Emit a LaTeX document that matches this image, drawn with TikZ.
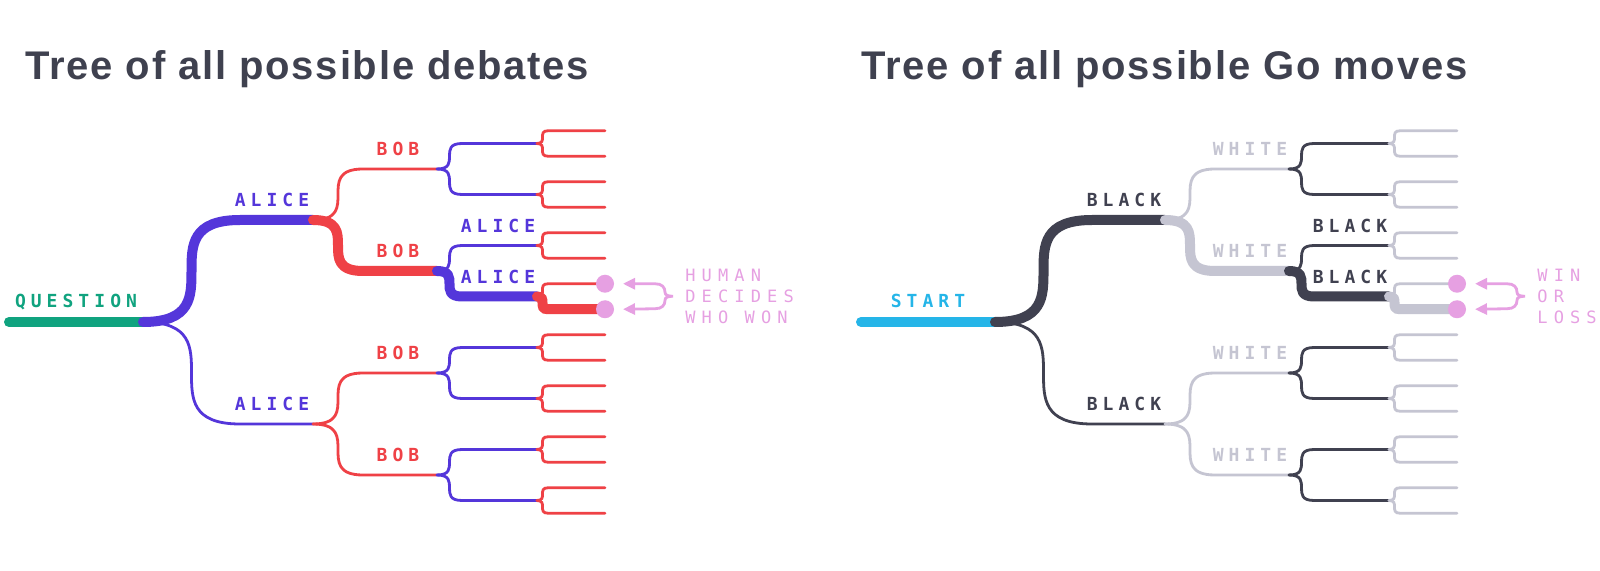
\documentclass[tikz,border=0pt]{standalone}
\usepackage{fontspec}
\setmainfont{Liberation Sans}
\newfontfamily\titlefont[LetterSpace=4.5]{Liberation Sans}
\newfontfamily\movefont[LetterSpace=28]{DejaVu Sans Mono}
\newfontfamily\notefont[LetterSpace=36]{DejaVu Sans Mono}
\usetikzlibrary{calc,arrows.meta}

\definecolor{qgreen}{RGB}{16,163,127}
\definecolor{apurple}{RGB}{84,54,218}
\definecolor{bred}{RGB}{239,65,70}
\definecolor{sblue}{RGB}{37,181,232}
\definecolor{gdark}{RGB}{64,65,80}
\definecolor{glight}{RGB}{197,197,210}
\definecolor{npink}{RGB}{230,160,226}
\definecolor{ttl}{RGB}{63,65,79}

\tikzset{
  twig/.style 2 args={to path={.. controls +(#1,0) and +(-#1,0)
      .. ($(\tikztotarget)+(-#2,0)$) -- (\tikztotarget)}},
  lvl1/.style={twig={97}{73}},
  lvl2/.style={twig={50}{74}},
  lvl3/.style={twig={25}{75}},
  lvl4/.style={twig={11}{57}},
  branch/.style={line width=1.4pt,line cap=round},
  played/.style={line width=5pt,line cap=round},
  movelabel/.style={font=\movefont\bfseries\fontsize{9pt}{9pt}\selectfont,
      inner sep=0pt,text depth=0pt},
  notelabel/.style={font=\notefont\fontsize{8.5pt}{10.5pt}\selectfont,
      text=npink,align=left,inner sep=0pt,anchor=west},
  enddot/.style={circle,fill=npink,inner sep=0pt,minimum size=9pt},
  judge/.style={npink,line width=1.4pt,
      arrows={Triangle[length=6pt,width=5.5pt]-Triangle[length=6pt,width=5.5pt]}},
  title/.style={font=\titlefont\bfseries\fontsize{20pt}{20pt}\selectfont,text=ttl,
      inner sep=0pt,anchor=base west}
}

% #1 name prefix, #2 root colour, #3/#4 colours of the two players,
% #5 root label, #6/#7 move labels, #8 note at the two end states
\newcommand\gametree[8]{
  \coordinate (#1s) at (9,322);
  \coordinate (#1n) at (143,322);
  \foreach \i/\di in {1/-102,2/102}{
    \coordinate (#1n\i) at (313,322+\di);
    \foreach \j/\dj in {1/-51,2/51}{
      \coordinate (#1n\i\j) at (437,322+\di+\dj);
      \foreach \k/\dk in {1/-25.5,2/25.5}{
        \coordinate (#1n\i\j\k) at (537,322+\di+\dj+\dk);
        \foreach \m/\dm in {1/-12.75,2/12.75}
          \coordinate (#1n\i\j\k\m) at (605,322+\di+\dj+\dk+\dm);
      }
    }
  }
  % every possible move
  \foreach \i in {1,2}{
    \draw[branch,#3] (#1n) to[lvl1] (#1n\i);
    \foreach \j in {1,2}{
      \draw[branch,#4] (#1n\i) to[lvl2] (#1n\i\j);
      \foreach \k in {1,2}{
        \draw[branch,#3] (#1n\i\j) to[lvl3] (#1n\i\j\k);
        \foreach \m in {1,2}
          \draw[branch,#4] (#1n\i\j\k) to[lvl4] (#1n\i\j\k\m);
      }
    }
  }
  % the game that was played
  \draw[played,#2] (#1s) -- (#1n);
  \draw[played,#3] (#1n) to[lvl1] (#1n1);
  \draw[played,#4] (#1n1) to[lvl2] (#1n12);
  \draw[played,#3] (#1n12) to[lvl3] (#1n122);
  \draw[played,#4] (#1n122) to[lvl4] (#1n1222);
  % labels
  \node[movelabel,text=#2] (#1ls) at ($(#1s)!.5!(#1n)+(0,-21)$) {#5};
  \foreach \i in {1,2}{
    \node[movelabel,text=#3] (#1l\i) at ($(#1n\i)+(-41,-20)$) {#6};
    \foreach \j in {1,2}
      \node[movelabel,text=#4] (#1l\i\j) at ($(#1n\i\j)+(-39,-20)$) {#7};
    \node[movelabel,text=#3] (#1l12\i) at ($(#1n12\i)+(-39,-20)$) {#6};
  }
  % end states and who judges them
  \foreach \m in {1,2}{
    \node[enddot] (#1d\m) at (#1n122\m) {};
    \coordinate (#1w\m) at ($(#1n122\m)+(18,0)$);
  }
  \draw[judge] (#1w1) -- ++(32,0)
    .. controls +(7,0) and +(0,-5) .. ++(10,8.5)
    .. controls +(0,3) and +(-5,0) .. ++(8,4)
    .. controls +(-5,0) and +(0,-3) .. ++(-8,4)
    .. controls +(0,5) and +(7,0) .. ++(-10,8.5)
    -- (#1w2);
  \node[notelabel] (#1t) at ($(#1n1221)!.5!(#1n1222)+(80,0)$) {#8};
}

\begin{document}
\begin{tikzpicture}[x=0.5pt,y=-0.5pt]
  \path[fill=white,use as bounding box] (0,0) rectangle (1600,571);
  \node[title] (tdebate) at (25,80) {Tree of all possible debates};
  \node[title] (tgo) at (861,80) {Tree of all possible Go moves};
  \gametree{L}{qgreen}{apurple}{bred}{QUESTION}{ALICE}{BOB}{HUMAN\\DECIDES\\WHO WON}
  \begin{scope}[shift={(852,0)}]
    \gametree{R}{sblue}{gdark}{glight}{START}{BLACK}{WHITE}{WIN\\OR\\LOSS}
  \end{scope}
\end{tikzpicture}
\end{document}
